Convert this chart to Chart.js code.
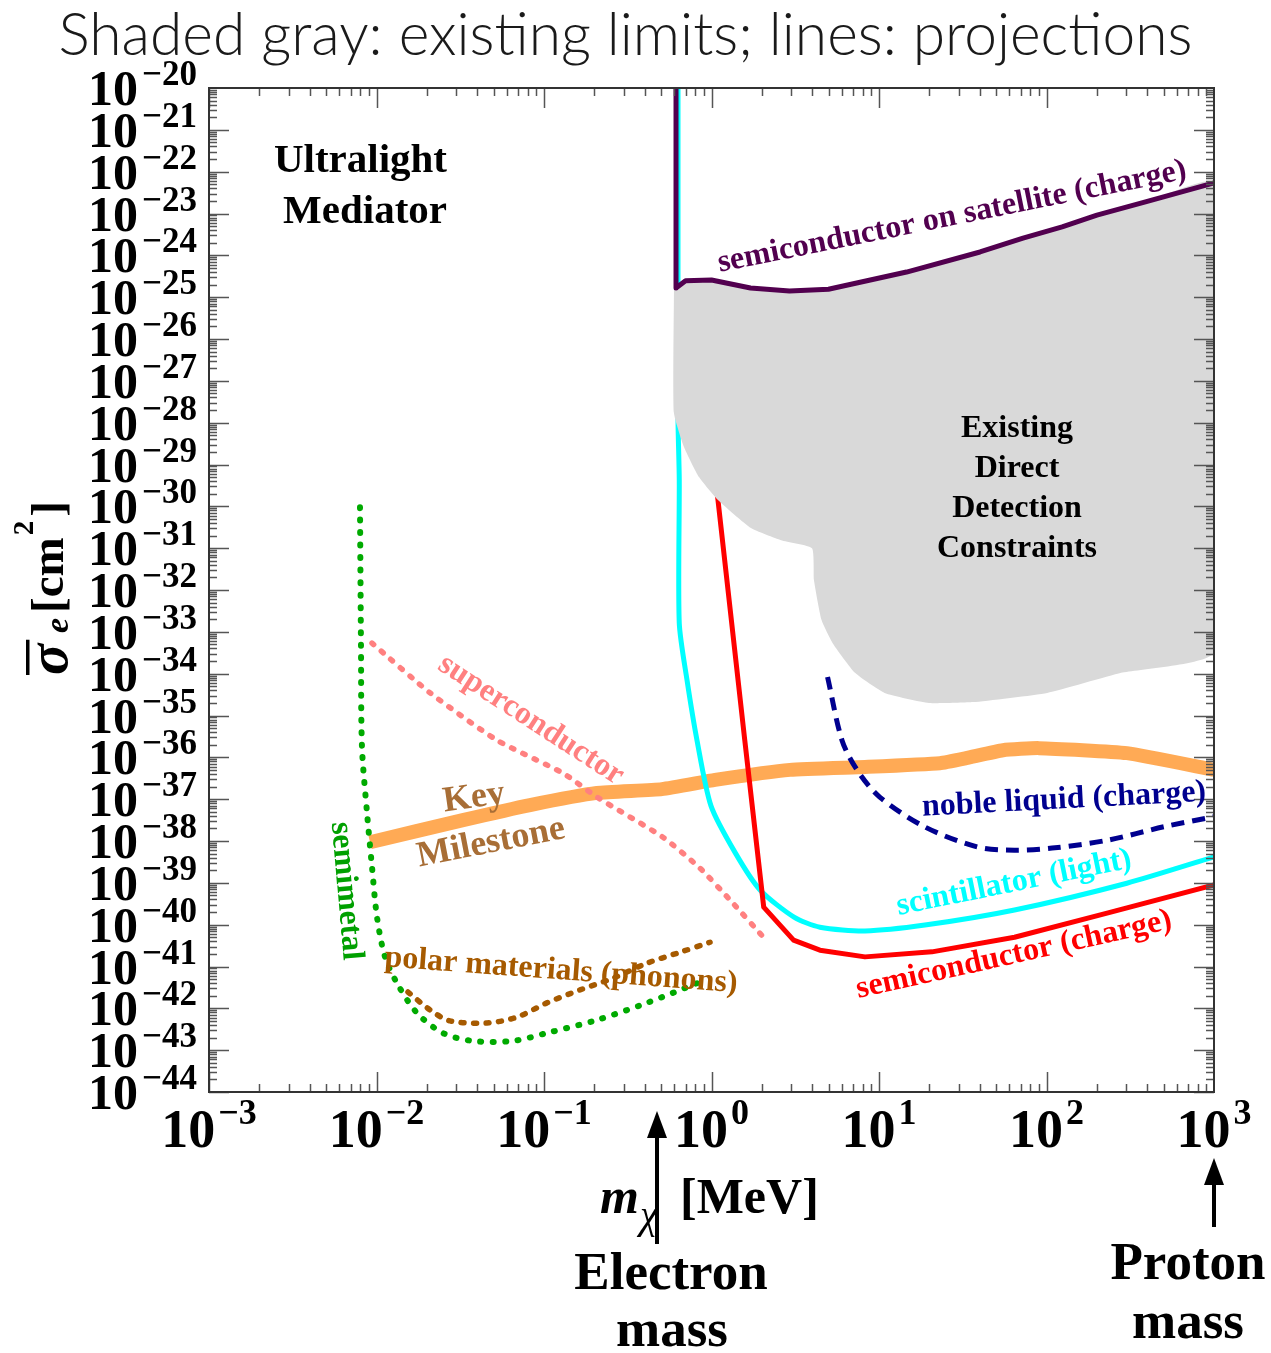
<!DOCTYPE html>
<html>
<head>
<meta charset="utf-8">
<script src="https://cdn.jsdelivr.net/npm/chart.js@4.4.1/dist/chart.umd.min.js"></script>
<style>
  html, body { margin: 0; padding: 0; background: #fff; }
  canvas { display: block; }
</style>
</head>
<body>
<canvas id="chart" width="1271" height="1353"></canvas>
<script>
// axis ranges (m_chi in MeV, sigma_e in cm^2)
const xMin = 1e-3, xMax = 1e3;
const yMin = 1e-44, yMax = 1e-20;
const xTickExps = [-3, -2, -1, 0, 1, 2, 3];
const yTickExps = [-20, -21, -22, -23, -24, -25, -26, -27, -28, -29, -30, -31, -32,
                   -33, -34, -35, -36, -37, -38, -39, -40, -41, -42, -43, -44];

// curves: x = mass [MeV], exp = log10(sigma_e / cm^2)
const satelliteX   = [0.614, 0.614, 0.70, 1.0, 1.71, 2.92, 4.99, 14.6, 40.1, 72.4, 124, 200, 385, 1000];
const satelliteExp = [-20, -24.78, -24.61, -24.59, -24.78, -24.85, -24.81, -24.40, -23.92, -23.59, -23.32, -23.04, -22.73, -22.27];

// lower edge of the existing-limits region (upper edge = satellite curve)
const grayLowerX   = [0.597, 0.597, 0.685, 0.842, 1.093, 1.72, 2.60, 3.98, 4.09, 4.54, 5.29, 7.19, 10.8, 19.9, 36.4, 101, 279, 1000];
const grayLowerExp = [-24.78, -27.77, -28.58, -29.30, -29.85, -30.52, -30.81, -31.00, -31.76, -32.72, -33.27, -33.98, -34.46, -34.70, -34.68, -34.46, -33.98, -33.48];

const scintX   = [0.631, 0.631, 0.631, 0.642, 0.642, 0.714, 0.819, 0.993, 1.39, 1.95, 3.11, 4.44, 8.25, 18.8, 64.4, 302, 1000];
const scintExp = [-20, -24.71, -27.94, -29.37, -32.79, -34.15, -35.59, -37.16, -38.29, -39.17, -39.82, -40.06, -40.15, -40.01, -39.65, -39.01, -38.38];

const semiX   = [0.99, 1.093, 1.58, 2.05, 3.09, 4.44, 8.25, 20.7, 64.4, 233, 1000];
const semiExp = [-28.41, -29.85, -35.59, -39.58, -40.37, -40.61, -40.77, -40.65, -40.30, -39.72, -39.05];

const nobleX   = [4.93, 6.01, 7.39, 10.1, 18.7, 38.5, 64.4, 108, 233, 502, 1000];
const nobleExp = [-34.08, -35.59, -36.30, -36.95, -37.66, -38.14, -38.22, -38.17, -37.98, -37.66, -37.42];

const milestoneX   = [0.00915, 0.0328, 0.0825, 0.207, 0.506, 1.05, 2.94, 8.25, 23.1, 33.1, 55.0, 90.0, 302, 1000];
const milestoneExp = [-38.03, -37.50, -37.14, -36.85, -36.76, -36.54, -36.30, -36.23, -36.14, -36.02, -35.83, -35.78, -35.90, -36.30];

const superX   = [0.0094, 0.0209, 0.0524, 0.130, 0.207, 0.513, 0.854, 1.29, 2.14];
const superExp = [-33.27, -34.46, -35.59, -36.38, -36.95, -37.91, -38.65, -39.41, -40.39];

const semimetalX   = [0.00797, 0.00808, 0.00819, 0.00878, 0.0094, 0.01007, 0.01124, 0.01326, 0.01745, 0.0249, 0.0377, 0.0653, 0.104, 0.207, 0.412, 0.819];
const semimetalExp = [-30.02, -33.36, -35.75, -37.33, -38.62, -39.82, -40.77, -41.40, -42.11, -42.59, -42.78, -42.78, -42.59, -42.28, -41.87, -41.40];

const polarX   = [0.01542, 0.0209, 0.0275, 0.0457, 0.0690, 0.104, 0.164, 0.258, 0.412, 0.649, 0.98];
const polarExp = [-41.61, -42.04, -42.30, -42.35, -42.21, -41.87, -41.56, -41.28, -40.92, -40.66, -40.42];

// helpers
function pts(xs, exps) {
    return xs.map((x, i) => ({ x: x, y: Math.pow(10, exps[i]) }));
}

// closed polygon for the gray region
const grayShape = pts(satelliteX.slice(1), satelliteExp.slice(1))
    .concat(pts(grayLowerX, grayLowerExp).reverse());

const SERIF = '"Liberation Serif", "Times New Roman", serif';

function line(data, color, width, extra) {
    return Object.assign({
        data: data,
        showLine: true,
        borderColor: color,
        backgroundColor: color,
        borderWidth: width,
        pointRadius: 0,
        pointHoverRadius: 0,
        fill: false,
        tension: 0,
        borderJoinStyle: 'round'
    }, extra || {});
}

function textAt(ctx, s, x, y, font, color, angleDeg, align, base, sx) {
    ctx.save();
    ctx.translate(x, y);
    ctx.rotate((angleDeg || 0) * Math.PI / 180);
    if (sx) ctx.scale(sx, 1);
    ctx.font = font;
    ctx.fillStyle = color;
    ctx.textAlign = align || 'center';
    ctx.textBaseline = base || 'middle';
    ctx.fillText(s, 0, 0);
    ctx.restore();
}

function arrowUp(ctx, x, tipY, endY) {
    ctx.save();
    ctx.strokeStyle = '#000';
    ctx.fillStyle = '#000';
    ctx.lineWidth = 4;
    ctx.beginPath();
    ctx.moveTo(x, endY);
    ctx.lineTo(x, tipY + 20);
    ctx.stroke();
    ctx.beginPath();
    ctx.moveTo(x, tipY);
    ctx.lineTo(x - 10, tipY + 27);
    ctx.lineTo(x + 10, tipY + 27);
    ctx.closePath();
    ctx.fill();
    ctx.restore();
}

const decorPlugin = {
    id: 'decor',
    afterDatasetsDraw(chart) {
        const ctx = chart.ctx;
        const a = chart.chartArea;
        const xs = chart.scales.x, ys = chart.scales.y;
        ctx.save();
        // inward ticks on all four sides
        ctx.strokeStyle = '#555';
        ctx.lineWidth = 1.5;
        ctx.beginPath();
        for (let d = -3; d <= 2; d++) {
            for (let k = 1; k <= 9; k++) {
                const px = Math.round(xs.getPixelForValue(k * Math.pow(10, d))) + 0.5;
                const len = k === 1 ? 20 : 8;
                ctx.moveTo(px, a.bottom); ctx.lineTo(px, a.bottom - len);
                ctx.moveTo(px, a.top); ctx.lineTo(px, a.top + len);
            }
        }
        for (let d = -44; d <= -21; d++) {
            for (let k = 1; k <= 9; k++) {
                const py = Math.round(ys.getPixelForValue(k * Math.pow(10, d))) + 0.5;
                const len = k === 1 ? 20 : 8;
                ctx.moveTo(a.left, py); ctx.lineTo(a.left + len, py);
                ctx.moveTo(a.right, py); ctx.lineTo(a.right - len, py);
            }
        }
        ctx.stroke();
        // frame
        ctx.strokeStyle = '#333';
        ctx.lineWidth = 2;
        ctx.strokeRect(a.left, a.top, a.right - a.left, a.bottom - a.top);
        ctx.restore();
    },
    afterDraw(chart) {
        const ctx = chart.ctx;
        const xs = chart.scales.x, ys = chart.scales.y;
        ctx.save();

        // title, sized to span the same width as the original
        const titleFont = '300 50px Lato, "Open Sans", sans-serif';
        ctx.font = titleFont;
        let tw = ctx.measureText('Shaded gray: existing limits; lines: projections').width;
        const tsize = 50 * 1135 / tw;
        textAt(ctx, 'Shaded gray: existing limits; lines: projections', 625.5, 55,
               '300 ' + tsize.toFixed(1) + 'px Lato, "Open Sans", sans-serif', '#1a1a1a', 0, 'center', 'alphabetic');

        // y tick labels
        ctx.fillStyle = '#000';
        yTickExps.forEach(e => {
            const py = ys.getPixelForValue(Math.pow(10, e));
            ctx.font = 'bold 50px ' + SERIF;
            ctx.textAlign = 'right';
            ctx.textBaseline = 'alphabetic';
            ctx.fillText('10', 138, py + 17);
            ctx.font = 'bold 35px ' + SERIF;
            ctx.textAlign = 'left';
            ctx.fillText('\u2212' + Math.abs(e), 142, py - 3);
        });

        // x tick labels
        xTickExps.forEach(e => {
            const px = xs.getPixelForValue(Math.pow(10, e));
            const expStr = (e < 0 ? '\u2212' : '') + Math.abs(e);
            ctx.font = 'bold 54px ' + SERIF;
            const wb = ctx.measureText('10').width;
            ctx.font = 'bold 36px ' + SERIF;
            const we = ctx.measureText(expStr).width;
            const x0 = px - (wb + 3 + we) / 2;
            ctx.textAlign = 'left';
            ctx.textBaseline = 'alphabetic';
            ctx.font = 'bold 54px ' + SERIF;
            ctx.fillText('10', x0, 1147);
            ctx.font = 'bold 36px ' + SERIF;
            ctx.fillText(expStr, x0 + wb + 3, 1124);
        });

        // y axis title: sigma-bar_e [cm^2]
        ctx.save();
        ctx.translate(63, 677);
        ctx.rotate(-Math.PI / 2);
        ctx.fillStyle = '#000';
        ctx.textAlign = 'left';
        ctx.textBaseline = 'alphabetic';
        ctx.font = 'bold italic 58px ' + SERIF;
        const ws = ctx.measureText('\u03c3').width;
        ctx.fillText('\u03c3', 2, 4);
        ctx.fillRect(2, -37, ws + 4, 3.5);
        ctx.font = 'bold italic 34px ' + SERIF;
        ctx.fillText('e', 44, 5);
        ctx.font = 'bold 47px ' + SERIF;
        ctx.fillText('[cm', 64, 0);
        const wcm = ctx.measureText('[cm').width;
        ctx.font = 'bold 29px ' + SERIF;
        ctx.fillText('2', 64 + wcm + 2, -30);
        const w2 = ctx.measureText('2').width;
        ctx.font = 'bold 47px ' + SERIF;
        ctx.fillText(']', 64 + wcm + w2 + 6, 0);
        ctx.restore();

        // x axis title: m_chi [MeV]
        textAt(ctx, 'm', 600, 1213, 'bold italic 50px ' + SERIF, '#000', 0, 'left', 'alphabetic');
        textAt(ctx, '\u03c7', 640, 1228, 'italic 40px ' + SERIF, '#000', 0, 'left', 'alphabetic');
        textAt(ctx, '[MeV]', 680, 1213, 'bold 50px ' + SERIF, '#000', 0, 'left', 'alphabetic');

        // electron / proton mass markers
        arrowUp(ctx, 657, 1111, 1244);
        arrowUp(ctx, 1214, 1158, 1227);
        textAt(ctx, 'Electron', 671, 1289, 'bold 53px ' + SERIF, '#000', 0, 'center', 'alphabetic');
        textAt(ctx, 'mass', 672, 1346, 'bold 53px ' + SERIF, '#000', 0, 'center', 'alphabetic');
        textAt(ctx, 'Proton', 1188, 1279, 'bold 53px ' + SERIF, '#000', 0, 'center', 'alphabetic');
        textAt(ctx, 'mass', 1188, 1338, 'bold 53px ' + SERIF, '#000', 0, 'center', 'alphabetic');

        // panel annotations
        textAt(ctx, 'Ultralight', 447, 172, 'bold 41px ' + SERIF, '#000', 0, 'right', 'alphabetic');
        textAt(ctx, 'Mediator', 447, 223, 'bold 41px ' + SERIF, '#000', 0, 'right', 'alphabetic');
        ['Existing', 'Direct', 'Detection', 'Constraints'].forEach((s, i) => {
            textAt(ctx, s, 1017, 437 + 40 * i, 'bold 32px ' + SERIF, '#000', 0, 'center', 'alphabetic');
        });

        // curve labels
        const lf = 'bold 32px ' + SERIF;
        textAt(ctx, 'semiconductor on satellite (charge)', 952, 217, lf, '#52004F', -11.3);
        textAt(ctx, 'superconductor', 531, 720, lf, '#FF8080', 33);
        textAt(ctx, 'Key', 474, 798, 'bold 36px ' + SERIF, '#A86E36', -8);
        textAt(ctx, 'Milestone', 491, 843, 'bold 36px ' + SERIF, '#A86E36', -11);
        textAt(ctx, 'semimetal', 346, 891, lf, '#00A000', 85);
        textAt(ctx, 'polar materials (phonons)', 561, 971, lf, '#A65A00', 4.2);
        textAt(ctx, 'noble liquid (charge)', 1064, 800, lf, '#00008F', -3);
        textAt(ctx, 'scintillator (light)', 1014, 883, lf, '#00FFFF', -11.5);
        textAt(ctx, 'semiconductor (charge)', 1014, 955, lf, '#FF0000', -12.5);

        ctx.restore();
    }
};

new Chart(document.getElementById('chart'), {
    type: 'scatter',
    data: {
        datasets: [
            line(pts(satelliteX, satelliteExp), '#52004F', 5, { order: 1 }),
            {
                data: grayShape,
                showLine: true,
                borderColor: 'rgba(0,0,0,0)',
                borderWidth: 0,
                backgroundColor: '#D9D9D9',
                pointRadius: 0,
                fill: 'shape',
                tension: 0.15,
                order: 3
            },
            line(pts(semiX, semiExp), '#FF0000', 5, { order: 6 }),
            line(pts(scintX, scintExp), '#00FFFF', 5, { order: 6, tension: 0.25 }),
            line(pts(nobleX, nobleExp), '#00008F', 5, { order: 7, tension: 0.3, borderDash: [13, 8] }),
            line(pts(superX, superExp), '#FF8080', 5.5, { order: 8, tension: 0.2, borderDash: [2.5, 10], borderCapStyle: 'round' }),
            line(pts(semimetalX, semimetalExp), '#00AA00', 6, { order: 8, tension: 0.3, borderDash: [1, 11.5], borderCapStyle: 'round' }),
            line(pts(polarX, polarExp), '#A65A00', 5.5, { order: 8, tension: 0.3, borderDash: [3, 9.5], borderCapStyle: 'round' }),
            line(pts(milestoneX, milestoneExp), '#FFAA55', 14, { order: 10, tension: 0.15 })
        ]
    },
    options: {
        responsive: false,
        animation: false,
        events: [],
        layout: { padding: { left: 209, right: 57, top: 88, bottom: 261 } },
        plugins: {
            legend: { display: false },
            tooltip: { enabled: false }
        },
        scales: {
            x: { type: 'logarithmic', min: xMin, max: xMax, display: false },
            y: { type: 'logarithmic', min: yMin, max: yMax, display: false }
        }
    },
    plugins: [decorPlugin]
});
</script>
</body>
</html>
